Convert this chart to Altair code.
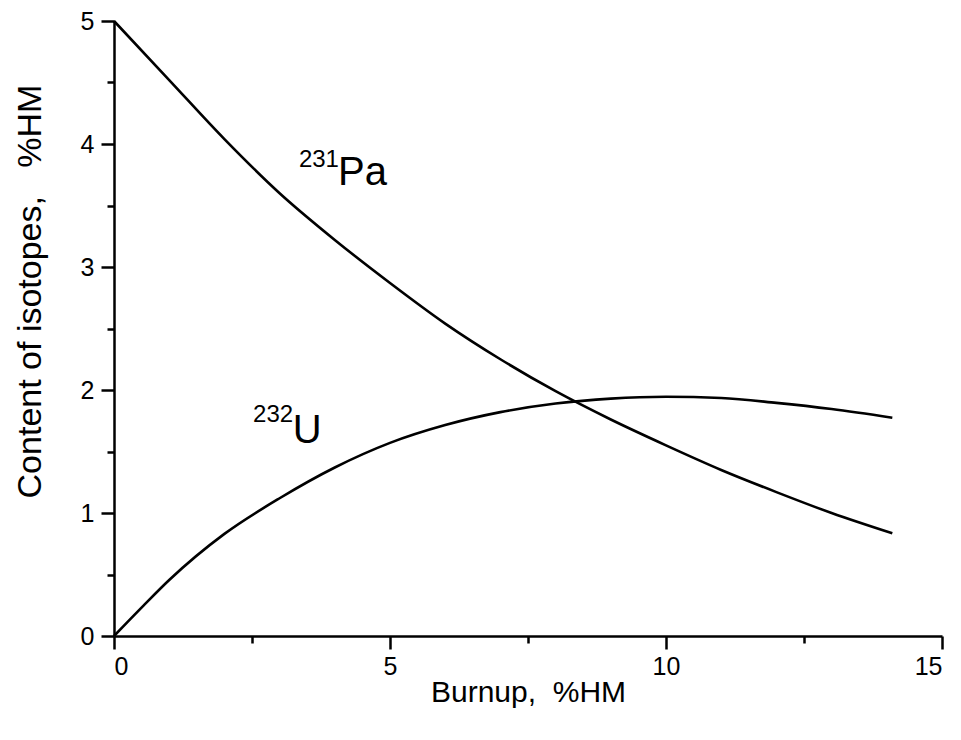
import altair as alt
import pandas as pd

# Burnup, %HM
burnup = [0, 1, 2, 3, 4, 5, 6, 7, 8, 9, 10, 11, 12, 13, 14.1]
# 231Pa content, %HM
pa231 = [5.0, 4.52, 4.04, 3.60, 3.22, 2.87, 2.54, 2.25, 1.99, 1.76, 1.55, 1.35, 1.17, 1.0, 0.835]
# 232U content, %HM
u_burnup = [0, 0.53, 1, 2, 3, 4, 5, 6, 7, 8, 9, 10, 11, 12, 13, 14.1]
u232 = [0, 0.245, 0.455, 0.83, 1.12, 1.37, 1.57, 1.715, 1.82, 1.89, 1.93, 1.945, 1.935, 1.895, 1.845, 1.775]

x_major = [0, 5, 10, 15]
x_minor = [2.5, 7.5, 12.5]
y_major = [0, 1, 2, 3, 4, 5]
y_minor = [0.5, 1.5, 2.5, 3.5, 4.5]

# annotations: superscript mass number + element symbol
ann_x = [3.35, 4.06, 2.52, 3.24]
ann_y = [3.81, 3.67, 1.74, 1.57]
ann_text = ["231", "Pa", "232", "U"]
ann_size = [24, 40, 24, 40]

FONT = "Liberation Sans"
NB = "\u00a0"

pa_df = pd.DataFrame({"x": burnup, "y": pa231})
u_df = pd.DataFrame({"x": u_burnup, "y": u232})
ann_df = pd.DataFrame({"x": ann_x, "y": ann_y, "t": ann_text, "s": ann_size})

xs = alt.Scale(domain=[0, 15], nice=False, zero=False)
ys = alt.Scale(domain=[0, 5], nice=False, zero=False)

axis_common = dict(
    domainColor="black", domainWidth=2.5, tickColor="black", tickWidth=2.5,
    labelFont=FONT, labelFontSize=25, labelColor="black",
    titleFont=FONT, titleColor="black", titleFontWeight="normal",
    grid=False,
)

x_axis_major = alt.Axis(values=x_major, tickSize=13, labelPadding=5, orient="bottom",
                        title="Burnup," + NB + NB + "%HM", titleFontSize=30,
                        titleBaseline="alphabetic", titleY=65,
                        format="d", **axis_common)
y_axis_major = alt.Axis(values=y_major, tickSize=13, labelPadding=7, orient="left",
                        title="Content of isotopes," + NB * 3 + "%HM", titleFontSize=34,
                        titleAngle=-90, titleBaseline="alphabetic", titleX=-74, titleY=270,
                        format="d", **axis_common)

x_axis_minor = alt.Axis(values=x_minor, tickSize=7, labels=False, domain=False,
                        orient="bottom", title=None, tickColor="black", tickWidth=2.5, grid=False)
y_axis_minor = alt.Axis(values=y_minor, tickSize=7, labels=False, domain=False,
                        orient="left", title=None, tickColor="black", tickWidth=2.5, grid=False)

pa_line = alt.Chart(pa_df).mark_line(color="black", strokeWidth=2.6, interpolate="monotone").encode(
    x=alt.X("x:Q", scale=xs, axis=x_axis_major),
    y=alt.Y("y:Q", scale=ys, axis=y_axis_major),
)
u_line = alt.Chart(u_df).mark_line(color="black", strokeWidth=2.6, interpolate="monotone").encode(
    x=alt.X("x:Q", scale=xs, axis=x_axis_minor),
    y=alt.Y("y:Q", scale=ys, axis=y_axis_minor),
)
labels = alt.Chart(ann_df).mark_text(align="left", baseline="alphabetic", font=FONT, color="black").encode(
    x=alt.X("x:Q", scale=xs, axis=None),
    y=alt.Y("y:Q", scale=ys, axis=None),
    text="t:N",
    size=alt.Size("s:Q", scale=None, legend=None),
)

chart = alt.layer(pa_line, u_line, labels).resolve_axis(x="independent", y="independent").properties(
    width=828, height=615,
    autosize=alt.AutoSizeParams(type="none"),
    padding={"left": 106, "top": 13, "right": 11, "bottom": 96},
).configure(background="white", view=alt.ViewConfig(stroke=None))

chart.save("out.html", embed_options={"renderer": "svg", "actions": False})
